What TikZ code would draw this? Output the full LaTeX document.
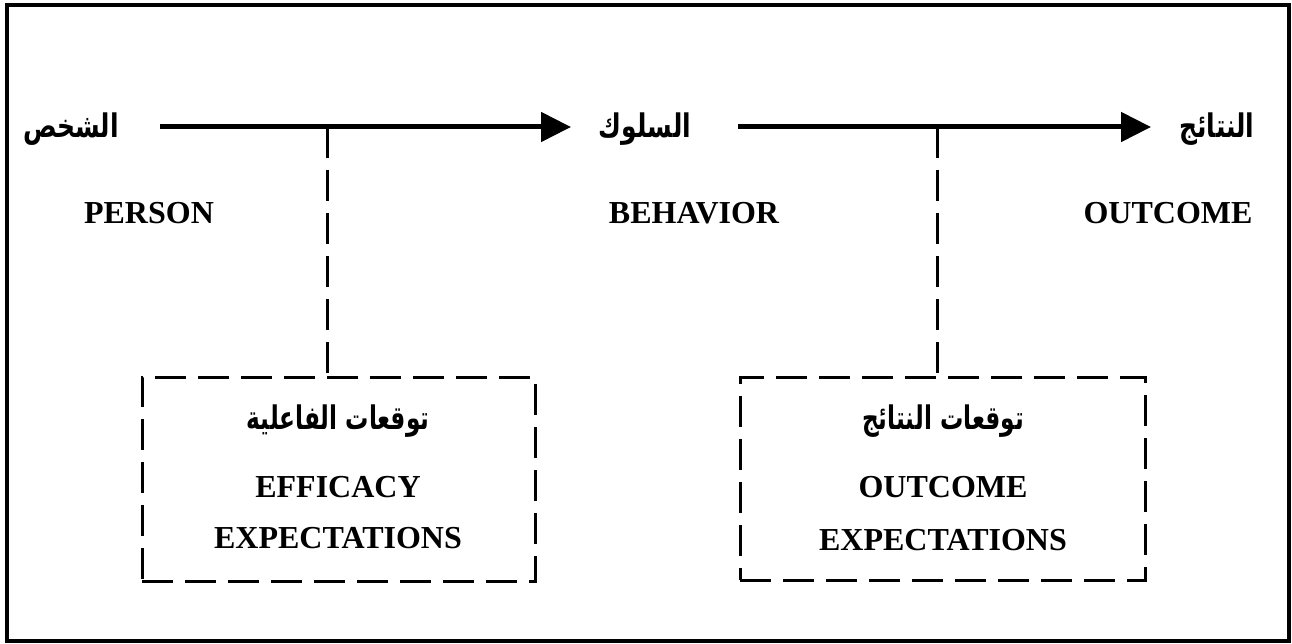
\documentclass[tikz,border=0pt]{standalone}
\usepackage{graphicx}
\usepackage{fontspec}
\setmainfont{Liberation Serif}
\newfontfamily\arabicfont[Script=Arabic]{DejaVu Sans}
\TeXXeTstate=1
\usetikzlibrary{arrows.meta}

% Arabic label, stretched vertically to a taller Naskh-like look
\newcommand{\arlabel}[2][1]{\scalebox{#1}[1.3]{\beginR #2\endR}}

\tikzset{
  eng/.style={font=\fontsize{32}{38}\selectfont\bfseries, inner sep=0pt},
  arb/.style={font=\arabicfont\fontsize{25}{30}\selectfont\bfseries, inner sep=0pt},
  mainline/.style={line width=5pt, -{Triangle[length=30pt,width=29pt]}},
  dashline/.style={line width=3pt, dash pattern=on 31pt off 12pt},
  dashbox/.style={draw, line width=3pt, dash pattern=on 31pt off 12pt, inner sep=0pt},
}

\begin{document}
\begin{tikzpicture}[x=1pt, y=-1pt]
  \useasboundingbox (0,0) rectangle (1292,644);
  % outer frame
  \draw[line width=3.5pt] (7,5) rectangle (1289,641);

  % top row: Arabic terms
  \node[arb] (ar1) at (71,129) {\arlabel{الشخص}};
  \node[arb] (ar2) at (645,129) {\arlabel{السلوك}};
  \node[arb] (ar3) at (1217,129) {\arlabel{النتائج}};

  % English terms
  \node[eng] (person) at (149,213) {PERSON};
  \node[eng] (behav) at (694,213) {BEHAVIOR};
  \node[eng] (outc) at (1168,213) {OUTCOME};

  % main arrows
  \coordinate (s1) at (160,127);
  \coordinate (e1) at (571,127);
  \coordinate (s2) at (738,127);
  \coordinate (e2) at (1151,127);
  \draw[mainline] (s1) -- (e1);
  \draw[mainline] (s2) -- (e2);

  % expectation boxes
  \node[dashbox, minimum width=393pt, minimum height=204pt] (box1) at (338.5,479) {};
  \node[dashbox, minimum width=405pt, minimum height=203pt] (box2) at (942.5,478.5) {};

  \node[arb] (eff-ar) at (338,421) {\arlabel[0.93]{توقعات الفاعلية}};
  \node[eng] (eff1) at (338,487) {EFFICACY};
  \node[eng] (eff2) at (338,538) {EXPECTATIONS};

  \node[arb] (out-ar) at (943,421) {\arlabel[0.93]{توقعات النتائج}};
  \node[eng] (out1) at (943,487) {OUTCOME};
  \node[eng] (out2) at (943,540) {EXPECTATIONS};

  % dashed links from arrows down to boxes
  \coordinate (j1) at (327,127);
  \coordinate (j2) at (937,127);
  \draw[dashline] (j1) -- (j1 |- box1.north);
  \draw[dashline] (j2) -- (j2 |- box2.north);
\end{tikzpicture}
\end{document}
